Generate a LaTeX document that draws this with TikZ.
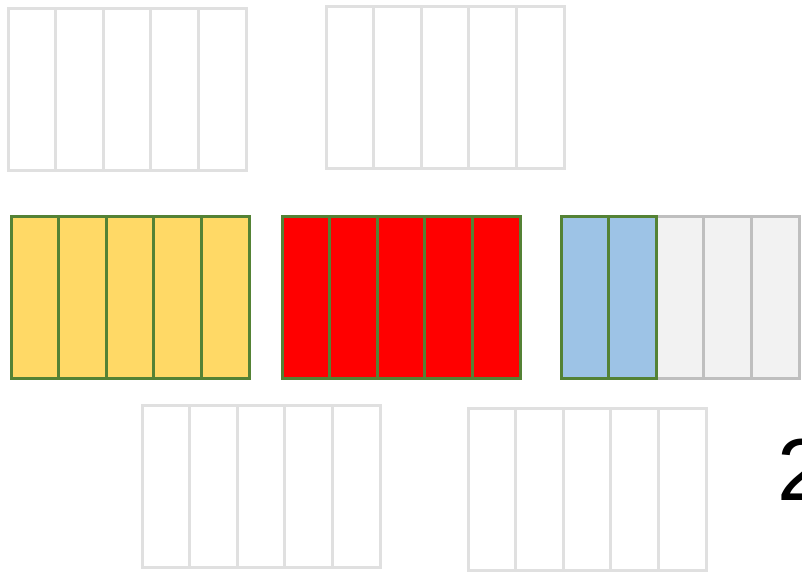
\documentclass[tikz,border=0pt]{standalone}
\usepackage{fontspec}
\setmainfont{Liberation Sans}
\definecolor{emptyline}{HTML}{E0E0E0}
\definecolor{greenline}{HTML}{548235}
\definecolor{yellowfill}{HTML}{FFD966}
\definecolor{redfill}{HTML}{FF0000}
\definecolor{bluefill}{HTML}{9DC3E6}
\definecolor{grayfill}{HTML}{F2F2F2}
\definecolor{grayline}{HTML}{BFBFBF}
\begin{document}
\begin{tikzpicture}[x=1pt,y=-1pt,
  cell/.style={rectangle,inner sep=0pt,outer sep=0pt,minimum width=47.6pt,minimum height=162pt,anchor=north west},
  emptycell/.style={cell,draw=emptyline,line width=3pt,fill=white},
  yellowcell/.style={cell,draw=greenline,line width=3pt,fill=yellowfill},
  redcell/.style={cell,draw=greenline,line width=3pt,fill=redfill},
  bluecell/.style={cell,draw=greenline,line width=3pt,fill=bluefill},
  graycell/.style={cell,draw=grayline,line width=3pt,fill=grayfill}]
\useasboundingbox (0,0) rectangle (802,574);
\foreach \i in {0,...,4} {
  \node[emptycell] (ta\i) at (8+47.6*\i,8) {};
  \node[emptycell] (tb\i) at (326+47.6*\i,6) {};
  \node[emptycell] (ba\i) at (142+47.6*\i,405) {};
  \node[emptycell] (bb\i) at (468+47.6*\i,408) {};
  \node[yellowcell] (y\i) at (11+47.6*\i,216) {};
  \node[redcell] (r\i) at (282+47.6*\i,216) {};
}
\foreach \i in {2,3,4} {
  \node[graycell] (g\i) at (561+47.6*\i,216) {};
}
\foreach \i in {0,1} {
  \node[bluecell] (bl\i) at (561+47.6*\i,216) {};
}
\node[anchor=base west,inner sep=0pt,font=\fontsize{88}{88}\selectfont] (two) at (777,500) {2};
\end{tikzpicture}
\end{document}
